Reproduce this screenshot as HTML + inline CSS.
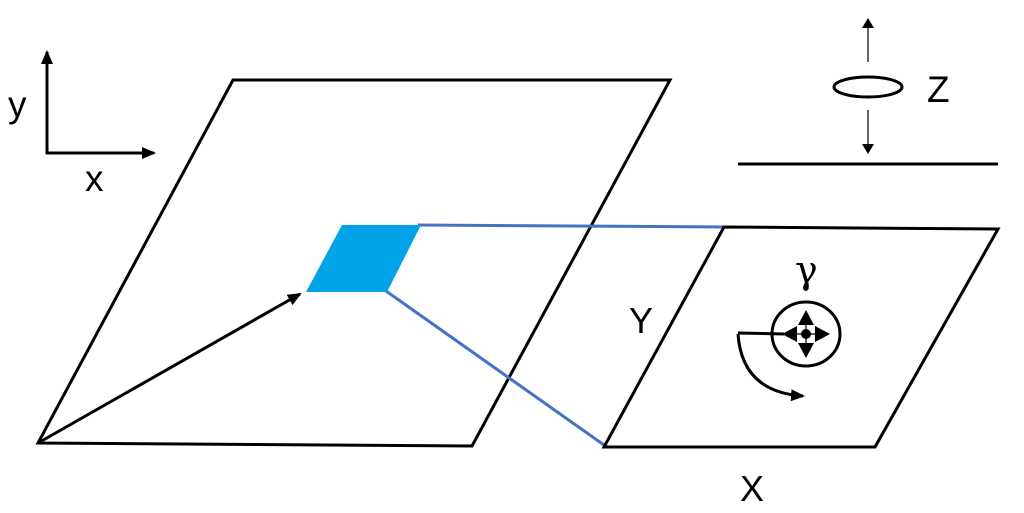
<!DOCTYPE html>
<html><head><style>body{margin:0;background:#fff}svg{display:block}</style></head><body>
<svg width="1024" height="513" viewBox="0 0 1024 513" xmlns="http://www.w3.org/2000/svg" font-family="Liberation Sans, sans-serif">
<defs>
<marker id="ah" markerWidth="10" markerHeight="12" refX="8" refY="6" orient="auto" markerUnits="userSpaceOnUse"><path d="M0,0 L10,6 L0,12 z" fill="#000"/></marker>
<marker id="ah2" markerWidth="14" markerHeight="12" refX="12" refY="6" orient="auto" markerUnits="userSpaceOnUse"><path d="M0,0 L14,6 L0,12 z" fill="#000"/></marker>
</defs>
<!-- axes -->
<line x1="47" y1="154" x2="47" y2="52" stroke="#000" stroke-width="3" marker-end="url(#ah2)"/>
<line x1="46" y1="153" x2="154" y2="153" stroke="#000" stroke-width="3" marker-end="url(#ah2)"/>
<text x="8" y="117" font-size="37">y</text>
<text x="85" y="191" font-size="37">x</text>
<!-- main plane -->
<polygon points="233,80 670,80 472,446 38,443" fill="none" stroke="#000" stroke-width="3"/>
<!-- blue lines -->
<line x1="418" y1="225" x2="724" y2="227" stroke="#4472c4" stroke-width="3"/>
<line x1="386" y1="291" x2="604" y2="445" stroke="#4472c4" stroke-width="3"/>
<polygon points="342,225 421,225 387,292 306,292" fill="#00a2e8"/>
<line x1="38" y1="443" x2="300" y2="294" stroke="#000" stroke-width="3" marker-end="url(#ah2)"/>
<!-- right plane -->
<polygon points="724,227 998,229 875,447 604,447" fill="none" stroke="#000" stroke-width="3"/>
<text x="629" y="333" font-size="36">Y</text>
<text x="740" y="501" font-size="36">X</text>
<text x="795" y="283" font-size="38" font-family="DejaVu Serif, serif">γ</text>
<ellipse cx="806" cy="334" rx="34" ry="32" fill="none" stroke="#000" stroke-width="3"/>
<line x1="738" y1="333" x2="784" y2="334" stroke="#000" stroke-width="3"/>
<line x1="790" y1="334" x2="822" y2="334" stroke="#000" stroke-width="1.2"/>
<line x1="806" y1="318" x2="806" y2="350" stroke="#000" stroke-width="1.2"/>
<path d="M797,326 L782,334 L797,342 z" fill="#000"/>
<path d="M815,326 L830,334 L815,342 z" fill="#000"/>
<path d="M798,325 L806,310 L814,325 z" fill="#000"/>
<path d="M798,343 L806,358 L814,343 z" fill="#000"/>
<circle cx="806" cy="334" r="5" fill="#000"/>
<path d="M738,334 Q742,392 803,396" fill="none" stroke="#000" stroke-width="3" marker-end="url(#ah2)"/>
<!-- Z -->
<line x1="868" y1="62" x2="868" y2="20" stroke="#000" stroke-width="1.2" marker-end="url(#ah)"/>
<ellipse cx="868" cy="87" rx="34" ry="10" fill="none" stroke="#000" stroke-width="3"/>
<line x1="868" y1="110" x2="868" y2="152" stroke="#000" stroke-width="1.2" marker-end="url(#ah)"/>
<text x="927" y="102" font-size="37">Z</text>
<line x1="738" y1="164" x2="998" y2="164" stroke="#000" stroke-width="3"/>
</svg>
</body></html>
